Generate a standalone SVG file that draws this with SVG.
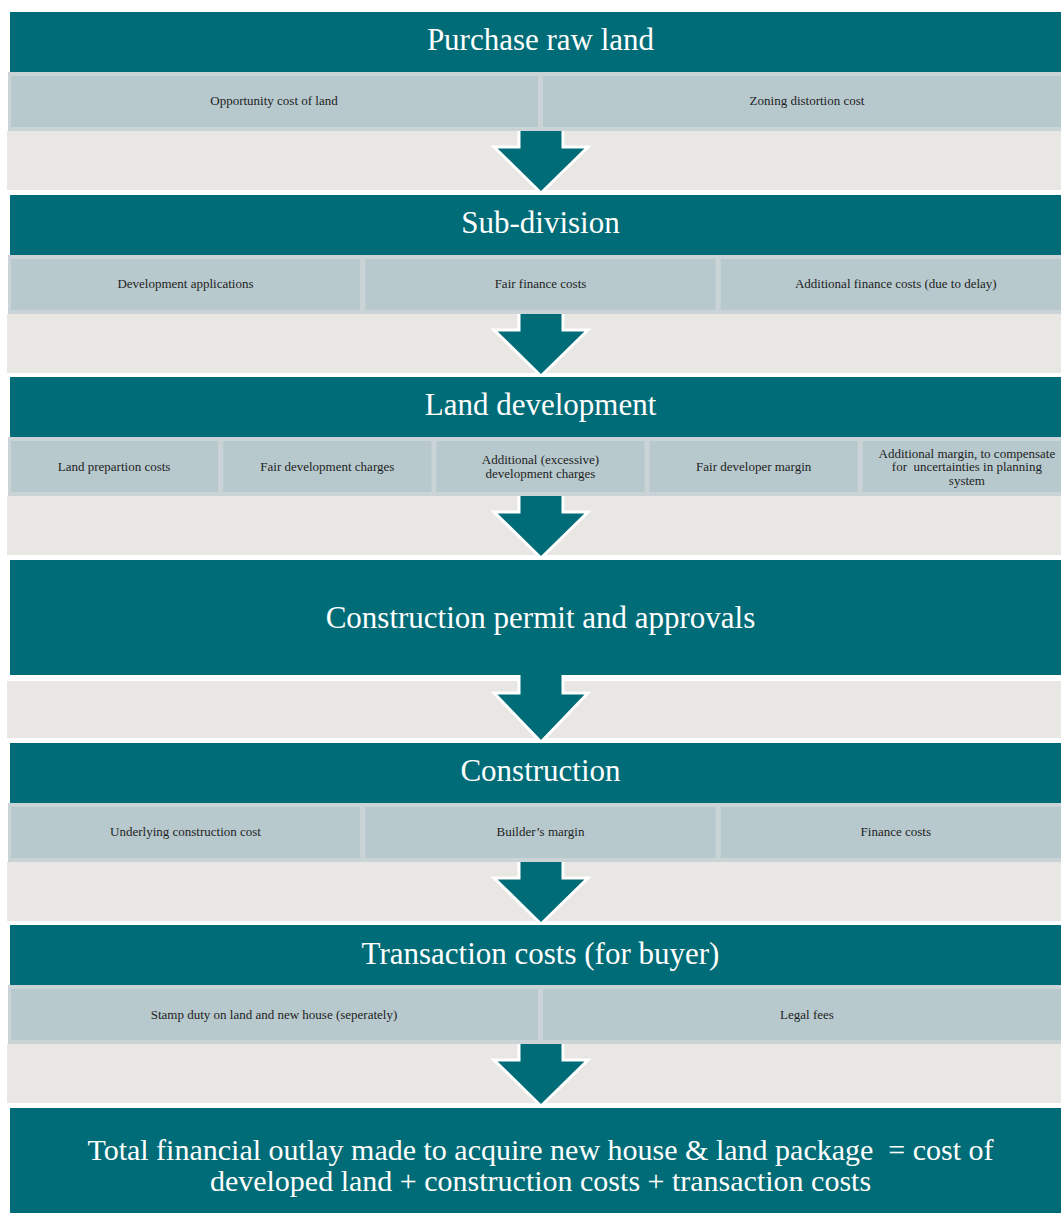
<svg xmlns="http://www.w3.org/2000/svg" width="1061" height="1213" viewBox="0 0 1061 1213">
  <style>
    .band { fill: #e8e7e4; }
    .row { fill: #cad3d6; }
    .cell { fill: #b7c9cd; }
    .head { fill: #006c77; }
    .htxt { font-family: "Liberation Serif", "Times New Roman", serif; font-size: 31px; fill: #ffffff; text-anchor: middle; }
    .ftxt { font-family: "Liberation Serif", "Times New Roman", serif; font-size: 30px; fill: #ffffff; text-anchor: middle; }
    .ctxt { font-family: "Liberation Serif", "Times New Roman", serif; font-size: 13px; fill: #1e1e1e; text-anchor: middle; }
    .arrow { fill: #006c77; stroke: #ffffff; stroke-width: 3; stroke-linejoin: miter; }
  </style>

  <!-- grey background bands under each stage -->
  <g id="bands">
    <rect class="band" x="7" y="131" width="1070" height="59"/>
    <rect class="band" x="7" y="314" width="1070" height="59"/>
    <rect class="band" x="7" y="496" width="1070" height="59"/>
    <rect class="band" x="7" y="681" width="1070" height="57"/>
    <rect class="band" x="7" y="862" width="1070" height="59"/>
    <rect class="band" x="7" y="1044" width="1070" height="59"/>
  </g>

  <!-- downward block arrows between stages -->
  <g id="connectors">
    <polygon class="arrow" points="519,129 563,129 563,147 588,147 541,193 494,147 519,147"/>
    <polygon class="arrow" points="519,312 563,312 563,330 588,330 541,376 494,330 519,330"/>
    <polygon class="arrow" points="519,494 563,494 563,512 588,512 541,558 494,512 519,512"/>
    <polygon class="arrow" points="519,673 563,673 563,693 588,693 541,742 494,693 519,693"/>
    <polygon class="arrow" points="519,860 563,860 563,878 588,878 541,924 494,878 519,878"/>
    <polygon class="arrow" points="519,1042 563,1042 563,1060 588,1060 541,1106 494,1060 519,1060"/>
  </g>

  <!-- Stage 1 -->
  <g id="purchase-raw-land">
    <rect class="head" x="10" y="12" width="1061" height="60"/>
    <text class="htxt" x="540.5" y="50">Purchase raw land</text>
    <rect class="row" x="8" y="72" width="1066" height="59"/>
    <rect class="cell" x="11" y="76" width="527" height="51"/>
    <rect class="cell" x="543" y="76" width="528" height="51"/>
    <text class="ctxt" x="274" y="105">Opportunity cost of land</text>
    <text class="ctxt" x="807" y="105">Zoning distortion cost</text>
  </g>

  <!-- Stage 2 -->
  <g id="sub-division">
    <rect class="head" x="10" y="195" width="1061" height="60"/>
    <text class="htxt" x="540.5" y="233">Sub-division</text>
    <rect class="row" x="8" y="255" width="1066" height="59"/>
    <rect class="cell" x="11" y="259" width="349" height="51"/>
    <rect class="cell" x="365.3" y="259" width="350.3" height="51"/>
    <rect class="cell" x="720.7" y="259" width="351" height="51"/>
    <text class="ctxt" x="185.5" y="288">Development applications</text>
    <text class="ctxt" x="540.5" y="288">Fair finance costs</text>
    <text class="ctxt" x="895.8" y="288">Additional finance costs (due to delay)</text>
  </g>

  <!-- Stage 3 -->
  <g id="land-development">
    <rect class="head" x="10" y="377" width="1061" height="60"/>
    <text class="htxt" x="540.5" y="415">Land development</text>
    <rect class="row" x="8" y="437" width="1066" height="59"/>
    <rect class="cell" x="11" y="441" width="207.2" height="51"/>
    <rect class="cell" x="223.2" y="441" width="208.2" height="51"/>
    <rect class="cell" x="436.4" y="441" width="208.2" height="51"/>
    <rect class="cell" x="649.6" y="441" width="208.2" height="51"/>
    <rect class="cell" x="862.8" y="441" width="208.2" height="51"/>
    <text class="ctxt" x="114.1" y="471">Land prepartion costs</text>
    <text class="ctxt" x="327.3" y="471">Fair development charges</text>
    <text class="ctxt" x="540.5" y="464">Additional (excessive)</text>
    <text class="ctxt" x="540.5" y="478">development charges</text>
    <text class="ctxt" x="753.7" y="471">Fair developer margin</text>
    <text class="ctxt" x="966.9" y="458">Additional margin, to compensate</text>
    <text class="ctxt" x="966.9" y="471" xml:space="preserve">for  uncertainties in planning</text>
    <text class="ctxt" x="966.9" y="485">system</text>
  </g>

  <!-- Stage 4 -->
  <g id="construction-permit">
    <rect class="head" x="10" y="560" width="1061" height="115"/>
    <text class="htxt" x="540.5" y="628">Construction permit and approvals</text>
  </g>

  <!-- Stage 5 -->
  <g id="construction">
    <rect class="head" x="10" y="743" width="1061" height="60"/>
    <text class="htxt" x="540.5" y="781">Construction</text>
    <rect class="row" x="8" y="803" width="1066" height="59"/>
    <rect class="cell" x="11" y="807" width="349" height="51"/>
    <rect class="cell" x="365.3" y="807" width="350.3" height="51"/>
    <rect class="cell" x="720.7" y="807" width="351" height="51"/>
    <text class="ctxt" x="185.5" y="836">Underlying construction cost</text>
    <text class="ctxt" x="540.5" y="836">Builder’s margin</text>
    <text class="ctxt" x="895.8" y="836">Finance costs</text>
  </g>

  <!-- Stage 6 -->
  <g id="transaction-costs">
    <rect class="head" x="10" y="925" width="1061" height="60"/>
    <text class="htxt" x="540.5" y="964">Transaction costs (for buyer)</text>
    <rect class="row" x="8" y="985" width="1066" height="59"/>
    <rect class="cell" x="11" y="989" width="527" height="51"/>
    <rect class="cell" x="543" y="989" width="528" height="51"/>
    <text class="ctxt" x="274" y="1019">Stamp duty on land and new house (seperately)</text>
    <text class="ctxt" x="807" y="1019">Legal fees</text>
  </g>

  <!-- Result -->
  <g id="total-outlay">
    <rect class="head" x="10" y="1108" width="1061" height="110"/>
    <text class="ftxt" x="540.5" y="1160" xml:space="preserve">Total financial outlay made to acquire new house &amp; land package  = cost of</text>
    <text class="ftxt" x="540.5" y="1191">developed land + construction costs + transaction costs</text>
  </g>
</svg>
